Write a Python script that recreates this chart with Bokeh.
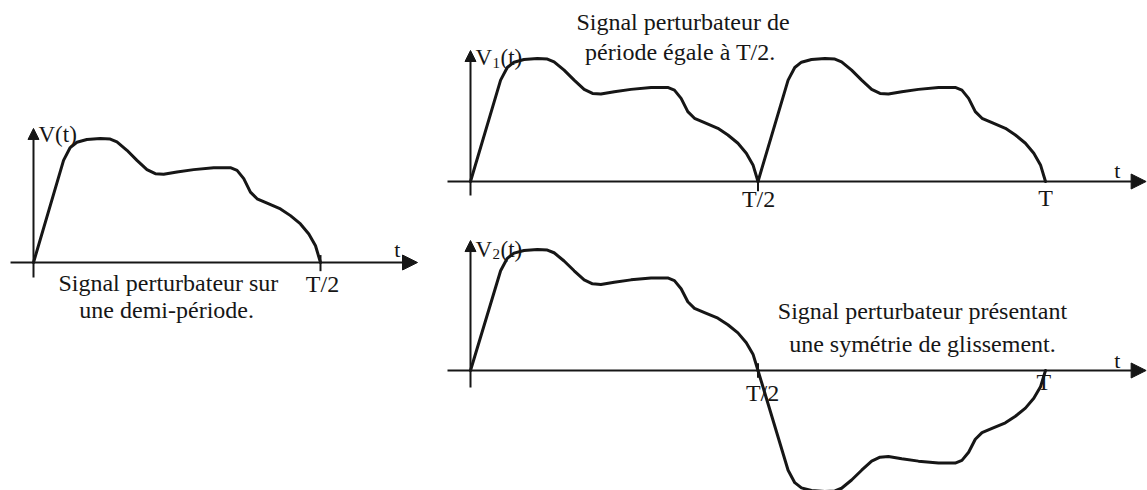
from bokeh.plotting import figure
from bokeh.layouts import row, column
from bokeh.models import Range1d, Arrow, NormalHead
from bokeh.core.properties import value
from bokeh.embed import file_html
from bokeh.resources import INLINE

# ---------------- data ----------------
T = 1.0
# one half-period of the disturbing signal: time as a fraction of T/2, amplitude normalised to its peak
half_frac = [0, 0.1047, 0.1279, 0.1512, 0.186, 0.2326, 0.2674, 0.2907, 0.3256, 0.3605,
             0.3953, 0.4244, 0.4535, 0.5, 0.5581, 0.6279, 0.686, 0.7093, 0.7326, 0.7558,
             0.7791, 0.814, 0.8605, 0.8953, 0.9302, 0.9593, 0.9826, 1.0]
half_v = [0, 0.824, 0.927, 0.970, 0.992, 1.0, 0.995, 0.973, 0.905, 0.824,
          0.749, 0.716, 0.711, 0.730, 0.749, 0.765, 0.765, 0.743, 0.676, 0.568,
          0.514, 0.478, 0.432, 0.378, 0.311, 0.230, 0.135, 0]
tick_positions = [T / 2, T]
tick_labels = ["T/2", "T"]
axis_names = ["V(t)", "V", "V", "t"]
subscripts = ["1", "2"]
captions_left = ["Signal perturbateur sur", "une demi-période."]
captions_v1 = ["Signal perturbateur de", "période égale à T/2."]
captions_v2 = ["Signal perturbateur présentant", "une symétrie de glissement."]

# derived series
t_first = [f * T / 2 for f in half_frac]
t_second = [T / 2 + f * T / 2 for f in half_frac]
v_neg = [-v for v in half_v]

INK = "#161616"
FONT = "Liberation Serif"


def make_fig(w, h, xr, yr):
    p = figure(width=w, height=h, x_range=Range1d(*xr), y_range=Range1d(*yr),
               output_backend="svg", toolbar_location=None, min_border=0,
               background_fill_color="white", border_fill_color="white")
    p.outline_line_color = None
    p.xaxis.visible = False
    p.yaxis.visible = False
    p.grid.visible = False
    return p


def label(p, x, y, text, size=24, align="center", xoff=0, yoff=0):
    p.text(x=[x], y=[y], text=[text], text_font=value(FONT), text_font_size=f"{size}px",
           text_align=align, text_baseline="middle", text_color=INK,
           x_offset=xoff, y_offset=yoff)


def axes(p, x0, x1, y0, y1, hsize=15, vsize=11):
    p.add_layout(Arrow(end=NormalHead(size=hsize, fill_color=INK, line_color=INK, line_width=1),
                       x_start=x0, y_start=0, x_end=x1, y_end=0,
                       line_color=INK, line_width=2))
    p.add_layout(Arrow(end=NormalHead(size=vsize, fill_color=INK, line_color=INK, line_width=1),
                       x_start=0, y_start=y0, x_end=0, y_end=y1,
                       line_color=INK, line_width=2))


def curve(p, xs, ys):
    p.line(xs, ys, line_color=INK, line_width=3, line_join="round", line_cap="round")


# ---------------- left: half period ----------------
left = make_fig(420, 490, (-0.05749, 0.67422), (-1.8387, 2.1129))
axes(left, -0.040, 0.669, -0.121, 1.081)
curve(left, t_first, half_v)
left.segment(x0=[tick_positions[0]], y0=[0.06], x1=[tick_positions[0]], y1=[-0.07],
             line_color=INK, line_width=2)
label(left, 0.0087, 1.032, axis_names[0], size=23, align="left")
label(left, 0.634, 0.105, axis_names[3], size=22)
label(left, 0.5035, -0.177, tick_labels[0])
label(left, 0.235, -0.169, captions_left[0])
label(left, 0.232, -0.387, captions_left[1])

# ---------------- right top: period T/2 ----------------
XR = (-0.08696, 1.17739)
top = make_fig(727, 225, XR, (-0.3577, 1.4715))
axes(top, -0.04, 1.175, -0.114, 1.065)
curve(top, t_first, half_v)
curve(top, t_second, half_v)
top.segment(x0=[tick_positions[0]], y0=[0.0], x1=[tick_positions[0]], y1=[-0.08],
            line_color=INK, line_width=2)
label(top, 0.0087, 1.008, axis_names[1], size=23, align="left")
label(top, 0.0087, 1.008, subscripts[0], size=15, align="left", xoff=17, yoff=5)
label(top, 0.0087, 1.008, "(t)", size=23, align="left", xoff=25)
label(top, 1.125, 0.089, axis_names[3], size=22)
label(top, 0.501, -0.146, tick_labels[0])
label(top, 1.0, -0.138, tick_labels[1])
label(top, 0.3696, 1.293, captions_v1[0])
label(top, 0.365, 1.049, captions_v1[1])

# ---------------- right bottom: glide symmetry ----------------
bot = make_fig(727, 265, XR, (-0.9917, 1.1983))
axes(bot, -0.04, 1.175, -0.14, 1.074)
curve(bot, t_first, half_v)
curve(bot, t_second, v_neg)
bot.segment(x0=[tick_positions[0]], y0=[0.06], x1=[tick_positions[0]], y1=[-0.06],
            line_color=INK, line_width=2)
label(bot, 0.0087, 1.0, axis_names[2], size=23, align="left")
label(bot, 0.0087, 1.0, subscripts[1], size=15, align="left", xoff=17, yoff=5)
label(bot, 0.0087, 1.0, "(t)", size=23, align="left", xoff=25)
label(bot, 1.125, 0.083, axis_names[3], size=22)
label(bot, 0.508, -0.19, tick_labels[0])
label(bot, 0.997, -0.099, tick_labels[1])
label(bot, 0.786, 0.488, captions_v2[0])
label(bot, 0.786, 0.223, captions_v2[1])

layout = row(left, column(top, bot))
open("out.html", "w").write(file_html(layout, INLINE))
